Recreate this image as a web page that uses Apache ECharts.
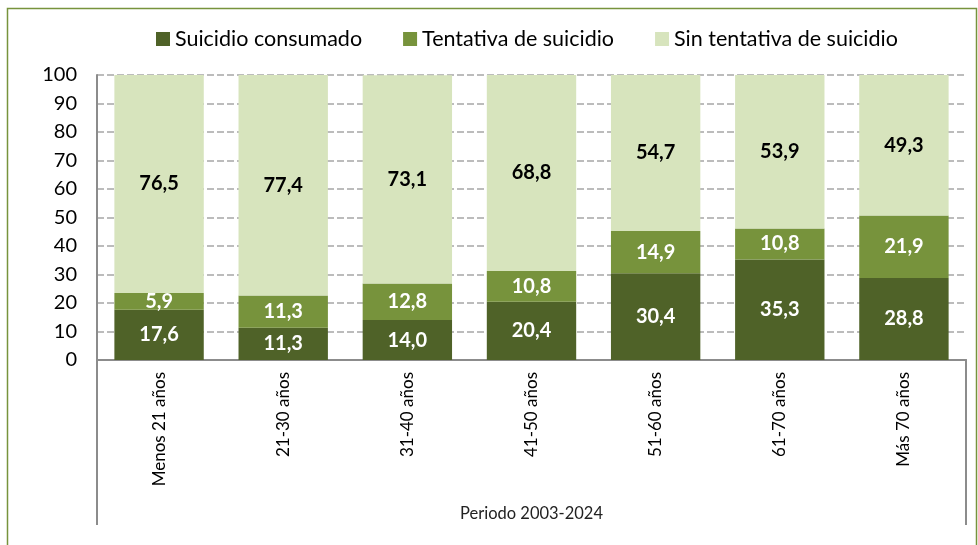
<!DOCTYPE html>
<html><head><meta charset="utf-8">
<script src="https://cdn.jsdelivr.net/npm/echarts@6/dist/echarts.min.js"></script>
<style>html,body{margin:0;padding:0;background:#fff}#c{width:978px;height:545px}</style>
</head><body><div id="c"></div>
<script>
const categories = ['Menos 21 años','21-30 años','31-40 años','41-50 años','51-60 años','61-70 años','Más 70 años'];
const seriesNames = ['Suicidio consumado','Tentativa de suicidio','Sin tentativa de suicidio'];
const consumado = [17.6, 11.3, 14.0, 20.4, 30.4, 35.3, 28.8];
const tentativa = [5.9, 11.3, 12.8, 10.8, 14.9, 10.8, 21.9];
const sinTentativa = [76.5, 77.4, 73.1, 68.8, 54.7, 53.9, 49.3];
const yTicks = [0,10,20,30,40,50,60,70,80,90,100];
const periodLabel = ['Periodo 2003-2024'];

const FONT = 'Lato, "Open Sans", sans-serif';
const colors = ['#4f6228', '#77933c', '#d7e4bd'];
const fmt = p => p.value.toFixed(1).replace('.', ',');
const mk = (name, data, color, labelColor) => ({
  name, type: 'bar', stack: 'total', data, barWidth: '72%',
  itemStyle: { color },
  label: { show: true, position: 'inside', formatter: fmt, color: labelColor, fontFamily: FONT, fontWeight: 'bold', fontSize: 20 }
});
const chart = echarts.init(document.getElementById('c'));
chart.setOption({
  animation: false,
  textStyle: { fontFamily: FONT },
  legend: {
    top: 23, left: 151, itemWidth: 14, itemHeight: 14, itemGap: 41,
    icon: 'rect',
    textStyle: { fontSize: 21.5, color: '#000', fontFamily: FONT },
    data: seriesNames
  },
  grid: { left: 97, right: 12, top: 75, bottom: 185, containLabel: false },
  xAxis: [{
    type: 'category', data: categories, position: 'bottom',
    axisLine: { show: true, lineStyle: { color: '#8c8c8c', width: 2 } },
    axisTick: { show: false },
    axisLabel: { rotate: 90, margin: 12, fontSize: 17, color: '#000', fontFamily: FONT, interval: 0 }
  }, {
    type: 'category', data: periodLabel, position: 'bottom', gridIndex: 0,
    axisLine: { show: true, lineStyle: { color: '#8c8c8c', width: 2 } },
    axisTick: { show: true, length: 165, lineStyle: { color: '#8c8c8c', width: 2 } },
    axisLabel: { margin: 145, fontSize: 16.5, color: '#222', fontFamily: FONT }
  }],
  yAxis: {
    type: 'value', min: yTicks[0], max: yTicks[yTicks.length - 1], interval: 10,
    axisLine: { show: true, lineStyle: { color: '#8c8c8c', width: 2 } },
    axisTick: { show: false },
    axisLabel: { fontSize: 20, color: '#000', margin: 20, fontFamily: FONT },
    splitLine: { show: true, lineStyle: { color: '#a6a6a6', type: [7, 3], width: 1.5 } }
  },
  graphic: [{
    type: 'rect', shape: { x: 7.5, y: 8.5, width: 969, height: 560 },
    style: { fill: 'none', stroke: '#77933c', lineWidth: 1.5 }, silent: true, z: -1
  }],
  series: [
    mk(seriesNames[0], consumado, colors[0], '#fff'),
    mk(seriesNames[1], tentativa, colors[1], '#fff'),
    mk(seriesNames[2], sinTentativa, colors[2], '#000')
  ]
});
</script></body></html>
